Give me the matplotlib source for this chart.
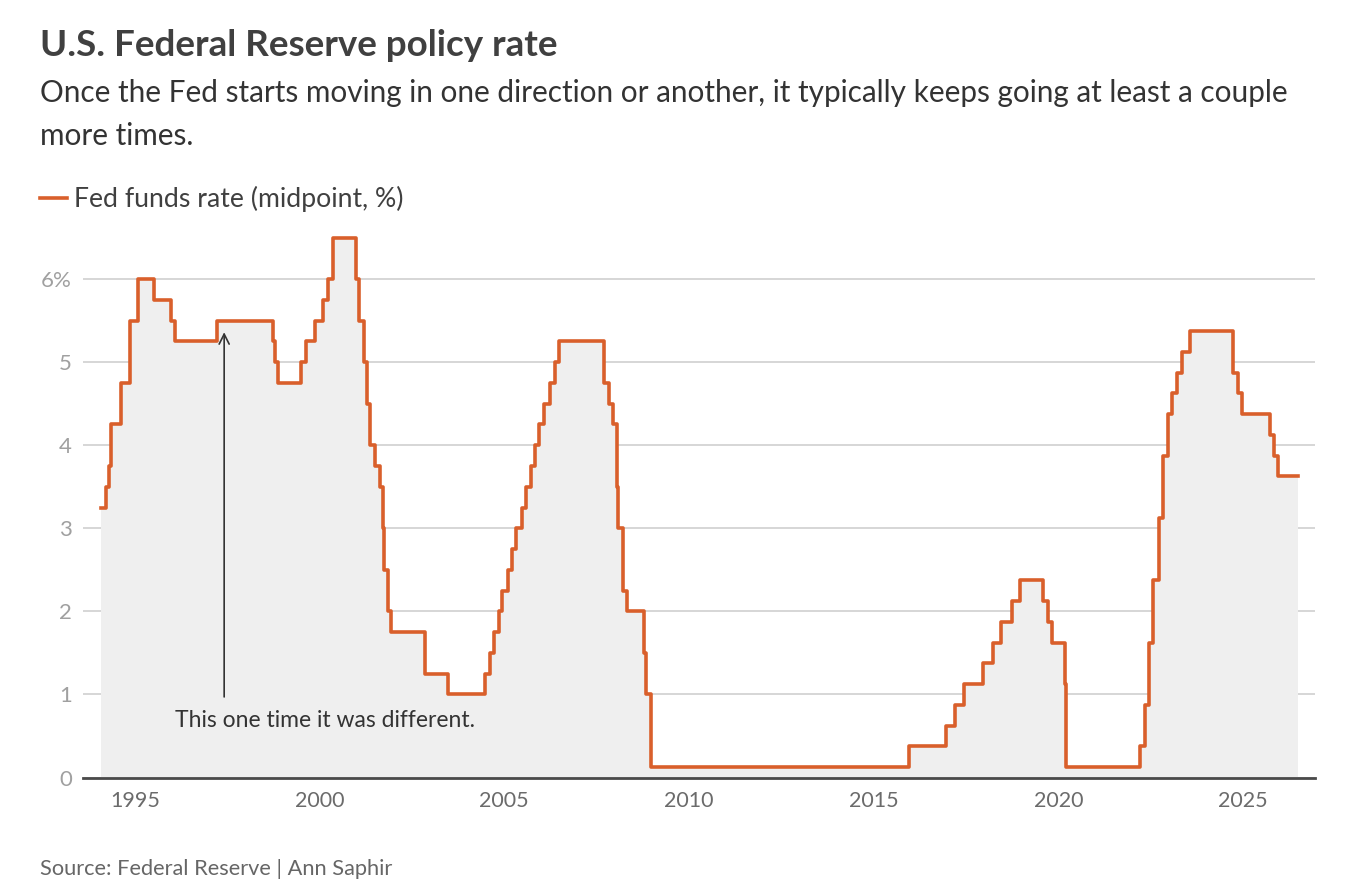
import numpy as np
import matplotlib
matplotlib.use('Agg')
import matplotlib.pyplot as plt
from matplotlib.ticker import FuncFormatter

# Fed funds target, midpoint (%), dated by decimal year of each change
dates = [1994.09, 1994.22, 1994.29, 1994.37, 1994.62, 1994.87, 1995.08, 1995.51, 1995.97,
         1996.08, 1997.23, 1998.74, 1998.79, 1998.88, 1999.49, 1999.64, 1999.87, 2000.09,
         2000.22, 2000.37, 2001.00, 2001.08, 2001.21, 2001.29, 2001.37, 2001.49, 2001.64,
         2001.71, 2001.75, 2001.85, 2001.94, 2002.85, 2003.48, 2004.49, 2004.61, 2004.72,
         2004.86, 2004.95, 2005.09, 2005.22, 2005.33, 2005.49, 2005.60, 2005.72, 2005.83,
         2005.95, 2006.08, 2006.24, 2006.36, 2006.49, 2007.71, 2007.83, 2007.94, 2008.06,
         2008.08, 2008.21, 2008.33, 2008.77, 2008.83, 2008.96, 2015.96, 2016.95, 2017.20,
         2017.45, 2017.95, 2018.22, 2018.45, 2018.73, 2018.97, 2019.58, 2019.71, 2019.83,
         2020.17, 2020.20, 2022.20, 2022.34, 2022.45, 2022.57, 2022.72, 2022.84, 2022.95,
         2023.08, 2023.22, 2023.34, 2023.57, 2024.71, 2024.85, 2024.96, 2025.71, 2025.83,
         2025.94, 2026.47]
rates = [3.25, 3.5, 3.75, 4.25, 4.75, 5.5, 6.0, 5.75, 5.5,
         5.25, 5.5, 5.25, 5.0, 4.75, 5.0, 5.25, 5.5, 5.75,
         6.0, 6.5, 6.0, 5.5, 5.0, 4.5, 4.0, 3.75, 3.5,
         3.0, 2.5, 2.0, 1.75, 1.25, 1.0, 1.25, 1.5, 1.75,
         2.0, 2.25, 2.5, 2.75, 3.0, 3.25, 3.5, 3.75, 4.0,
         4.25, 4.5, 4.75, 5.0, 5.25, 4.75, 4.5, 4.25, 3.5,
         3.0, 2.25, 2.0, 1.5, 1.0, 0.125, 0.375, 0.625, 0.875,
         1.125, 1.375, 1.625, 1.875, 2.125, 2.375, 2.125, 1.875, 1.625,
         1.125, 0.125, 0.375, 0.875, 1.625, 2.375, 3.125, 3.875, 4.375,
         4.625, 4.875, 5.125, 5.375, 4.875, 4.625, 4.375, 4.125, 3.875,
         3.625, 3.625]

year_ticks = [1995, 2000, 2005, 2010, 2015, 2020, 2025]
rate_ticks = [0, 1, 2, 3, 4, 5, 6]

plt.rcParams['font.family'] = ['Lato', 'DejaVu Sans']

orange = '#d95f2b'

fig = plt.figure(figsize=(13.52, 8.94), dpi=100)
ax = fig.add_axes([0.0614, 0.1303, 0.9112, 0.6226])

ax.fill_between(dates, rates, 0, step='post', color='#efefef', lw=0, zorder=1)
ax.step(dates, rates, where='post', color=orange, lw=2.6, zorder=3)

ax.set_xlim(1993.60, 2026.94)
ax.set_ylim(0, 6.7)
ax.set_xticks(year_ticks)
ax.set_yticks(rate_ticks)
ax.yaxis.set_major_formatter(FuncFormatter(lambda v, p: '6%' if v == 6 else f'{v:.0f}'))
ax.tick_params(axis='x', length=0, pad=10, labelsize=15.5, labelcolor='#6b6b6b')
ax.tick_params(axis='y', length=0, pad=8, labelsize=16, labelcolor='#a0a0a0')
ax.grid(axis='y', color='#d0d0d0', lw=1.2, zorder=0)
ax.set_axisbelow(True)
for s in ['top', 'right', 'left']:
    ax.spines[s].set_visible(False)
ax.spines['bottom'].set_color('#4a4a4a')
ax.spines['bottom'].set_linewidth(2)
ax.spines['bottom'].set_zorder(4)

# annotation
ax.annotate('', xy=(1997.42, 5.36), xytext=(1997.42, 0.97),
            arrowprops=dict(arrowstyle='->', color='#333333', lw=1.2,
                            mutation_scale=18, shrinkA=0, shrinkB=0), zorder=5)
ax.text(2000.16, 0.69, 'This one time it was different.', ha='center', va='center',
        fontsize=16.5, color='#333333', zorder=5)


def px(x, y):
    return x / 1352, 1 - y / 894


fig.text(*px(40, 56), 'U.S. Federal Reserve policy rate', fontsize=26.5,
         fontweight='bold', color='#404040', va='baseline')
fig.text(*px(40, 101.7), 'Once the Fed starts moving in one direction or another, '
         'it typically keeps going at least a couple', fontsize=21.4, color='#333333',
         va='baseline')
fig.text(*px(40, 145), 'more times.', fontsize=21.4, color='#333333', va='baseline')

fig.add_artist(plt.Line2D([40 / 1352, 67 / 1352], [1 - 198.3 / 894] * 2,
                          color=orange, lw=2.6))
fig.text(*px(74, 206.7), 'Fed funds rate (midpoint, %)', fontsize=19.2,
         color='#404040', va='baseline')

fig.text(*px(40, 875), 'Source: Federal Reserve | Ann Saphir', fontsize=15.7,
         color='#666666', va='baseline')

fig.savefig('out.png', dpi=100)
